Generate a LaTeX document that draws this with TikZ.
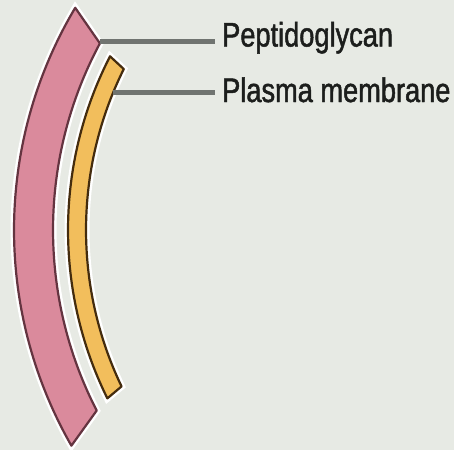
\documentclass[tikz,border=0pt]{standalone}
\usepackage{fontspec}
\usepackage{tikz}
\usetikzlibrary{calc}
\newfontfamily\labelfont{Liberation Sans}[FakeStretch=0.8, FakeBold=1.4]
\definecolor{paperGray}{RGB}{231, 234, 228}
\definecolor{wallPink}{RGB}{218, 138, 156}
\definecolor{wallEdge}{RGB}{100, 52, 64}
\definecolor{membraneYellow}{RGB}{242, 190, 92}
\definecolor{membraneEdge}{RGB}{68, 44, 14}
\definecolor{leaderGray}{RGB}{112, 116, 112}
\definecolor{labelInk}{RGB}{28, 30, 28}

\begin{document}
\begin{tikzpicture}[x=1pt, y=1pt,
    layer/.style={line width=2.2pt, line join=round, preaction={draw=white, line width=7pt}},
    leader/.style={leaderGray, line width=5pt},
    tag/.style={anchor=base west, inner xsep=7pt, inner ysep=0pt, text=labelInk,
                font=\labelfont\fontsize{34}{40}\selectfont}]
    \fill[paperGray] (0,0) rectangle (454,-450);
    \useasboundingbox (0,0) rectangle (454,-450);
    \coordinate (c) at (448,-230);

    % cell wall
    \draw[layer, draw=wallEdge, fill=wallPink]
        ($(c)+(149.2:434)$) arc[start angle=149.2, end angle=209.8, radius=434]
        -- ($(c)+(207.2:395)$) arc[start angle=207.2, end angle=151.8, radius=395] -- cycle;
    % membrane
    \draw[layer, draw=membraneEdge, fill=membraneYellow]
        ($(c)+(152.8:380)$) arc[start angle=152.8, end angle=206.3, radius=380]
        -- ($(c)+(205.6:362)$) arc[start angle=205.6, end angle=153.6, radius=362] -- cycle;

    \coordinate (pgstart) at ($(c)+(151.6:396)$);
    \coordinate (pmstart) at ($(c)+(157.6:362)$);

    \node[tag] (pglabel) at (215,-46.5) {Peptidoglycan};
    \node[tag] (pmlabel) at (215,-102) {Plasma membrane};

    \draw[leader] (pgstart) -- (pgstart -| pglabel.west);
    \draw[leader] (pmstart) -- (pmstart -| pmlabel.west);
\end{tikzpicture}
\end{document}
